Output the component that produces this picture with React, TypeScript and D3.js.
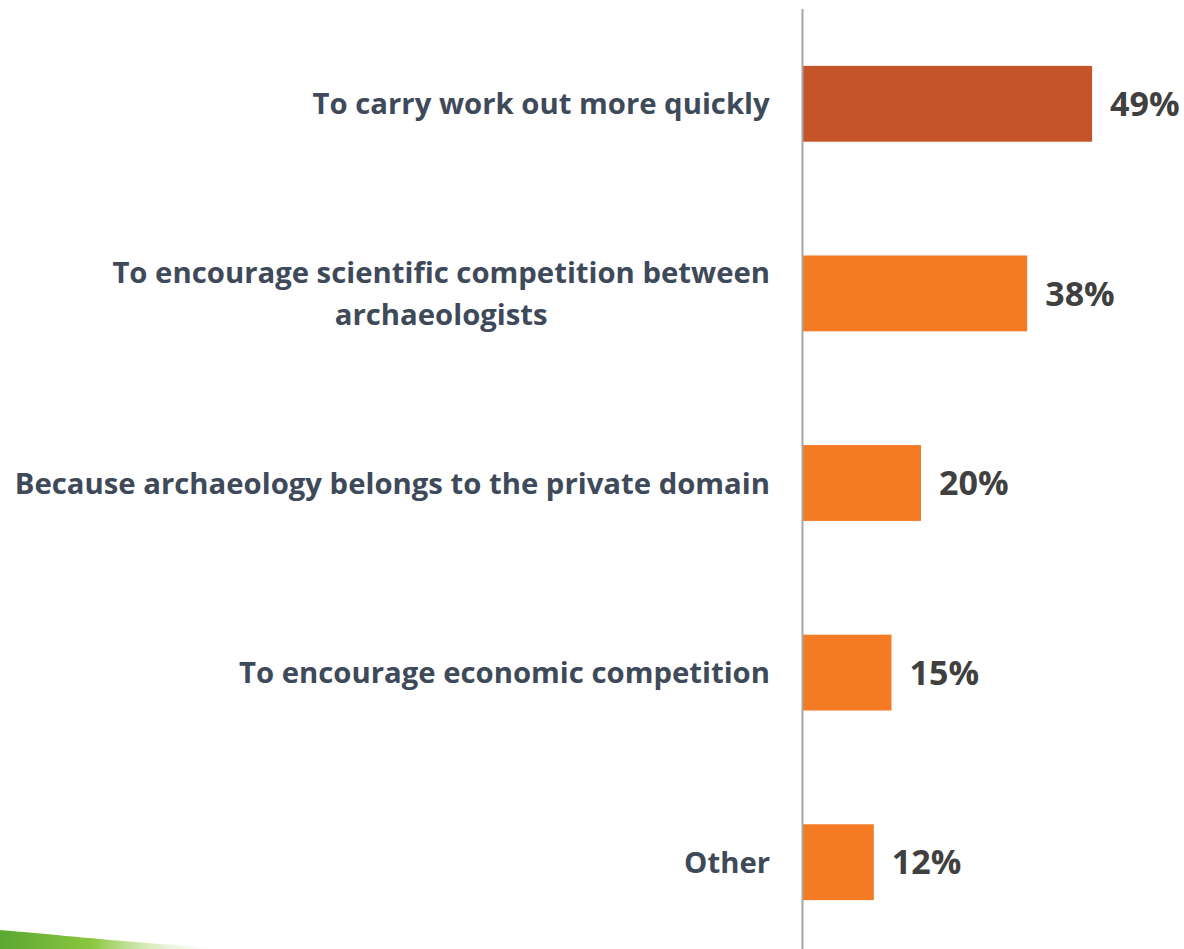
import React, { useEffect, useRef } from 'react'
import * as d3 from 'd3'

// categories (top to bottom) and shares in %
const categories = [
  'To carry work out more quickly',
  'To encourage scientific competition between archaeologists',
  'Because archaeology belongs to the private domain',
  'To encourage economic competition',
  'Other',
]
const labelLines = [
  ['To carry work out more quickly'],
  ['To encourage scientific competition between', 'archaeologists'],
  ['Because archaeology belongs to the private domain'],
  ['To encourage economic competition'],
  ['Other'],
]
const values = [49, 38, 20, 15, 12]
const highlight = [true, false, false, false, false]

const W = 1184
const H = 949

const App = () => {
  const ref = useRef<SVGSVGElement>(null)

  useEffect(() => {
    draw()
  })

  const draw = () => {
    const svg = d3.select(ref.current)
    svg.selectAll('*').remove()

    const axisX = 803
    const x = d3.scaleLinear().domain([0, 50]).range([axisX, axisX + 295])
    const y = d3
      .scaleBand<string>()
      .domain(categories)
      .range([9, 957])
      .paddingInner(0.6)
      .paddingOuter(0.3)

    // green swoosh decoration bottom-left
    const defs = svg.append('defs')
    const grad = defs
      .append('linearGradient')
      .attr('id', 'swoosh')
      .attr('x1', '0')
      .attr('x2', '1')
      .attr('y1', '0')
      .attr('y2', '0')
    grad.append('stop').attr('offset', '0%').attr('stop-color', '#5aa832')
    grad.append('stop').attr('offset', '40%').attr('stop-color', '#8cc63f')
    grad.append('stop').attr('offset', '100%').attr('stop-color', '#ffffff').attr('stop-opacity', 0)
    svg
      .append('path')
      .attr('d', 'M0,930 C50,934 110,941 230,949 L0,949 Z')
      .attr('fill', 'url(#swoosh)')

    const data = categories.map((c, i) => ({ c, v: values[i], hl: highlight[i], lines: labelLines[i] }))

    svg
      .append('g')
      .selectAll('rect')
      .data(data)
      .join('rect')
      .attr('x', x(0))
      .attr('y', (d) => y(d.c) as number)
      .attr('width', (d) => x(d.v) - x(0))
      .attr('height', y.bandwidth())
      .attr('fill', (d) => (d.hl ? '#c55528' : '#f47a24'))

    // vertical axis line
    svg
      .append('line')
      .attr('x1', axisX - 0.5)
      .attr('x2', axisX - 0.5)
      .attr('y1', 9)
      .attr('y2', H)
      .attr('stroke', '#a6a6a6')
      .attr('stroke-width', 2)

    // value labels
    svg
      .append('g')
      .selectAll('text')
      .data(data)
      .join('text')
      .attr('x', (d) => x(d.v) + 18)
      .attr('y', (d) => (y(d.c) as number) + y.bandwidth() / 2)
      .attr('dy', '0.36em')
      .attr('font-family', '"Open Sans", sans-serif')
      .attr('font-weight', 700)
      .attr('font-size', 34)
      .attr('fill', '#404040')
      .text((d) => `${d.v}%`)

    // category labels (block right-aligned, lines centered)
    const lineH = 42
    data.forEach((d) => {
      const cy = (y(d.c) as number) + y.bandwidth() / 2
      const g = svg.append('g')
      const t = g
        .append('text')
        .attr('font-family', '"Open Sans", sans-serif')
        .attr('font-weight', 700)
        .attr('font-size', 29.3)
        .attr('fill', '#3e4a59')
        .attr('text-anchor', 'middle')
      d.lines.forEach((ln, j) => {
        t.append('tspan')
          .attr('x', 0)
          .attr('y', cy + (j - (d.lines.length - 1) / 2) * lineH)
          .attr('dy', '0.36em')
          .text(ln)
      })
      const bb = (t.node() as SVGTextElement).getBBox()
      g.attr('transform', `translate(${770 - (bb.x + bb.width)},0)`)
    })
  }

  return (
    <svg
      ref={ref}
      width={W}
      height={H}
      style={{ position: 'absolute', left: 0, top: 0, display: 'block', background: '#fff' }}
    />
  )
}

export default App
